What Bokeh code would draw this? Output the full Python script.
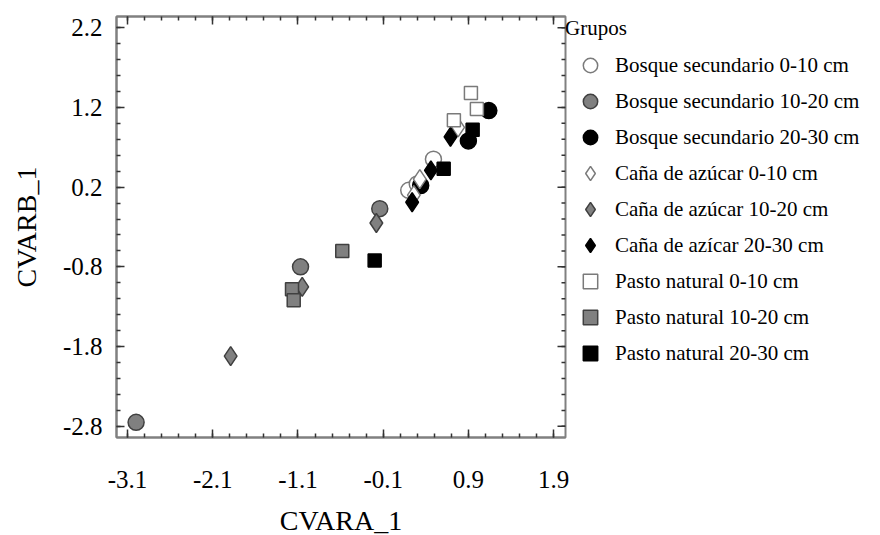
import numpy as np
from bokeh.plotting import figure
from bokeh.models import FixedTicker, LinearAxis, Legend, LegendItem, Range1d
from bokeh.embed import file_html
from bokeh.resources import INLINE

# ---- data ----
x_ticks = [-3.1, -2.1, -1.1, -0.1, 0.9, 1.9]
y_ticks = [2.2, 1.2, 0.2, -0.8, -1.8, -2.8]
x_minor = [round(-3.1 + 0.2 * i, 1) for i in range(26)]
y_minor = [round(-2.8 + 0.2 * i, 1) for i in range(26)]

labels = [
    "Bosque secundario 0-10 cm",
    "Bosque secundario 10-20 cm",
    "Bosque secundario 20-30 cm",
    "Caña de azúcar 0-10 cm",
    "Caña de azúcar 10-20 cm",
    "Caña de azícar 20-30 cm",
    "Pasto natural 0-10 cm",
    "Pasto natural 10-20 cm",
    "Pasto natural 20-30 cm",
]

bs1_x = [0.49, 0.20, 0.30]
bs1_y = [0.55, 0.16, 0.24]
bs2_x = [-0.14, -1.07, -3.00]
bs2_y = [-0.07, -0.80, -2.75]
bs3_x = [1.14, 0.90, 0.34]
bs3_y = [1.16, 0.78, 0.22]
ca1_x = [0.33, 0.78, 0.26]
ca1_y = [0.30, 0.95, 0.10]
ca2_x = [-0.18, -1.05, -1.89]
ca2_y = [-0.25, -1.05, -1.92]
ca3_x = [0.69, 0.46, 0.24]
ca3_y = [0.83, 0.41, 0.01]
pn1_x = [0.93, 1.00, 0.73]
pn1_y = [1.38, 1.18, 1.04]
pn2_x = [-0.58, -1.17, -1.15]
pn2_y = [-0.60, -1.08, -1.22]
pn3_x = [-0.20, 0.61, 0.95]
pn3_y = [-0.72, 0.43, 0.92]

series_x = [bs1_x, bs2_x, bs3_x, ca1_x, ca2_x, ca3_x, pn1_x, pn2_x, pn3_x]
series_y = [bs1_y, bs2_y, bs3_y, ca1_y, ca2_y, ca3_y, pn1_y, pn2_y, pn3_y]

# ---- styles ----
markers = ["circle"] * 3 + ["diamond"] * 3 + ["square"] * 3
sizes = [16, 16, 16, 19, 19, 19, 13, 13, 13]
fills = ["white", "#808080", "black"] * 3
lines = ["#7a7a7a", "#404040", "black"] * 3

SERIF = "Liberation Serif"
X_START, X_END = -3.23, 2.04
Y_START, Y_END = -2.94, 2.34
TICK_COLOR = "#333333"

p = figure(frame_width=449, frame_height=421, output_backend="svg", toolbar_location=None,
           x_range=Range1d(X_START, X_END), y_range=Range1d(Y_START, Y_END),
           min_border_left=116, min_border_top=16, min_border_right=0,
           min_border_bottom=82, x_axis_label="CVARA_1", y_axis_label="CVARB_1")
p.grid.visible = False
p.outline_line_color = "#808080"
p.outline_line_width = 2
p.background_fill_color = "white"
p.border_fill_color = "white"

for ax, ticks, minor in ((p.xaxis[0], x_ticks, x_minor), (p.yaxis[0], y_ticks, y_minor)):
    ax.ticker = FixedTicker(ticks=ticks, minor_ticks=minor)
    ax.major_label_overrides = {t: str(t) for t in ticks}
    ax.major_label_text_font = SERIF
    ax.major_label_text_font_size = "25px"
    ax.major_label_text_color = "black"
    ax.axis_label_text_font = SERIF
    ax.axis_label_text_font_size = "28px"
    ax.axis_label_text_font_style = "normal"
    ax.axis_label_text_color = "black"
    ax.axis_line_color = "#808080"
    ax.axis_line_width = 2
    ax.major_tick_in = 8
    ax.major_tick_out = 0
    ax.minor_tick_in = 4
    ax.minor_tick_out = 0
    ax.major_tick_line_color = TICK_COLOR
    ax.minor_tick_line_color = TICK_COLOR
    ax.major_tick_line_width = 1.5
    ax.minor_tick_line_width = 1.5

p.xaxis.major_label_standoff = 33
p.xaxis.axis_label_standoff = 14
p.yaxis.major_label_standoff = 14
p.yaxis.axis_label_standoff = 18

# mirrored top axis (ticks only, no labels)
top_ax = LinearAxis(ticker=FixedTicker(ticks=x_ticks, minor_ticks=x_minor),
                    major_label_overrides={t: "" for t in x_ticks},
                    major_label_standoff=0,
                    axis_line_color="#808080", axis_line_width=2,
                    major_tick_in=8, major_tick_out=0, minor_tick_in=4, minor_tick_out=0,
                    major_tick_line_color=TICK_COLOR, minor_tick_line_color=TICK_COLOR,
                    major_tick_line_width=1.5, minor_tick_line_width=1.5)
p.add_layout(top_ax, "above")

# mirrored ticks on the right edge (inward, screen-length rays from the frame edge)
p.ray(x=[X_END] * len(y_ticks), y=y_ticks, length=8, length_units="screen",
      angle=np.pi, line_color=TICK_COLOR, line_width=1.5)
p.ray(x=[X_END] * len(y_minor), y=y_minor, length=4, length_units="screen",
      angle=np.pi, line_color=TICK_COLOR, line_width=1.5)

items = []
for i in range(9):
    r = p.scatter(series_x[i], series_y[i], marker=markers[i], size=sizes[i],
                  fill_color=fills[i], line_color=lines[i], line_width=1.5)
    items.append(LegendItem(label=labels[i], renderers=[r]))

legend = Legend(items=items, location="top_left", title="Grupos",
                title_text_font=SERIF, title_text_font_size="21px",
                title_text_font_style="normal", title_text_color="black",
                title_standoff=6,
                label_text_font=SERIF, label_text_font_size="21px",
                label_text_color="black",
                label_height=36, glyph_height=36, glyph_width=50,
                spacing=0, label_standoff=0, padding=0, margin=0,
                border_line_color=None, background_fill_alpha=0)
p.add_layout(legend, "right")

open("out.html", "w").write(file_html(p, INLINE))
